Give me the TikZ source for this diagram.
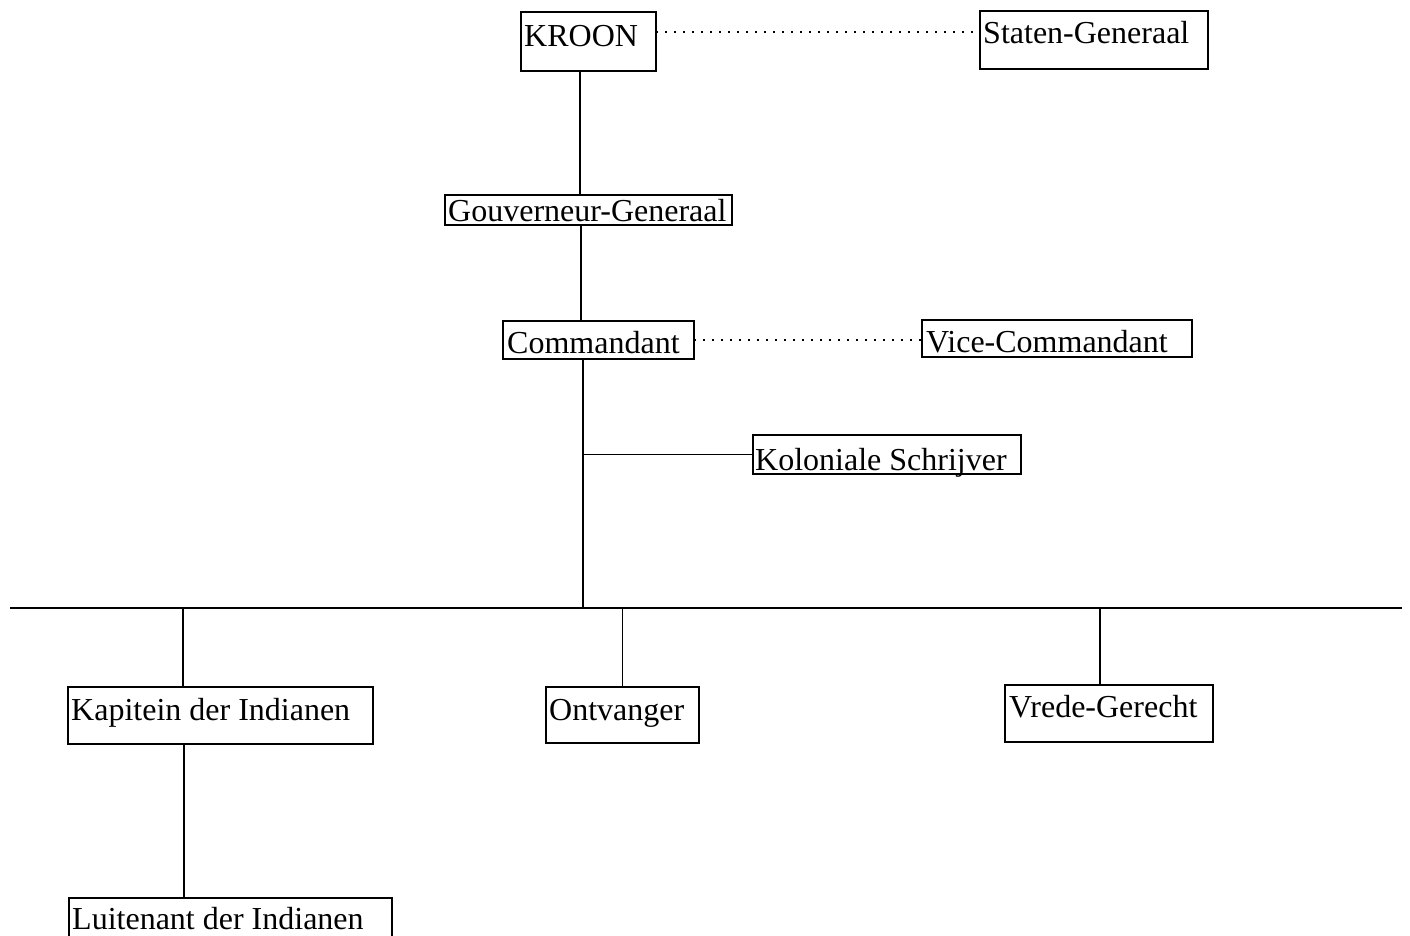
\documentclass[tikz,border=0pt]{standalone}
\usepackage{fontspec}
\setmainfont{Liberation Serif}
\usetikzlibrary{calc}
\begin{document}
\begin{tikzpicture}[x=1pt,y=-1pt,
  box/.style={draw, line width=1.2pt, inner sep=0pt, outer sep=0pt, anchor=north west},
  lbl/.style={anchor=base west, inner sep=0pt, font=\fontsize{32}{38}\selectfont},
  conn/.style={line width=1.2pt},
  dots/.style={line width=2pt, dash pattern=on 2pt off 7pt}]
\fill[white] (0,0) rectangle (1410,936);
\useasboundingbox (0,0) rectangle (1410,936);
% boxes
\node[box, minimum width=135pt, minimum height=59pt] (kroon) at (521,12) {};
\node[box, minimum width=228pt, minimum height=58pt] (sg) at (980,11) {};
\node[box, minimum width=287pt, minimum height=30pt] (gg) at (445,195) {};
\node[box, minimum width=191pt, minimum height=38pt] (cmd) at (503,321) {};
\node[box, minimum width=270pt, minimum height=37pt] (vc) at (922,320) {};
\node[box, minimum width=268pt, minimum height=39pt] (ks) at (753,435) {};
\node[box, minimum width=305pt, minimum height=57pt] (kap) at (68,687) {};
\node[box, minimum width=153pt, minimum height=56pt] (ont) at (546,687) {};
\node[box, minimum width=208pt, minimum height=57pt] (vr) at (1005,685) {};
\node[box, minimum width=323pt, minimum height=50pt] (lu) at (69,898) {};
% labels
\node[lbl] (tkroon) at ($(kroon.north west)+(3,35)$) {KROON};
\node[lbl] (tsg) at ($(sg.north west)+(3,33)$) {Staten-Generaal};
\node[lbl] (tgg) at ($(gg.north west)+(3,26)$) {Gouverneur-Generaal};
\node[lbl] (tcmd) at ($(cmd.north west)+(4,32)$) {Commandant};
\node[lbl] (tvc) at ($(vc.north west)+(4,32)$) {Vice-Commandant};
\node[lbl] (tks) at ($(ks.north west)+(2,35)$) {Koloniale Schrijver};
\node[lbl] (tkap) at ($(kap.north west)+(3,33)$) {Kapitein der Indianen};
\node[lbl] (tont) at ($(ont.north west)+(3,33)$) {Ontvanger};
\node[lbl] (tvr) at ($(vr.north west)+(4,32)$) {Vrede-Gerecht};
\node[lbl] (tlu) at ($(lu.north west)+(3,31)$) {Luitenant der Indianen};
% helper coordinates
\coordinate (bL) at (10,608);
\coordinate (bR) at (1402,608);
\coordinate (kx) at (580,0);
\coordinate (gx) at (581,0);
\coordinate (trunk) at (583,608);
\coordinate (kapx) at (183,608);
\coordinate (vrx) at (1100,608);
\coordinate (lx) at (184,0);
% connectors
\draw[dots] ([yshift=9pt]kroon.east) -- ([yshift=9pt]kroon.east -| sg.west);
\draw[dots] (cmd.east) -- (cmd.east -| vc.west);
\draw[conn] (kroon.south -| kx) -- (gg.north -| kx);
\draw[conn] (gg.south -| gx) -- (cmd.north -| gx);
\draw[conn] (cmd.south -| trunk) -- (trunk);
\draw[conn] (ks.west) -- (ks.west -| trunk);
\draw[conn] (bL) -- (bR);
\draw[conn] (kapx) -- (kap.north -| kapx);
\draw[conn] (ont.north |- bL) -- (ont.north);
\draw[conn] (vrx) -- (vr.north -| vrx);
\draw[conn] (kap.south -| lx) -- (lu.north -| lx);
\end{tikzpicture}
\end{document}
